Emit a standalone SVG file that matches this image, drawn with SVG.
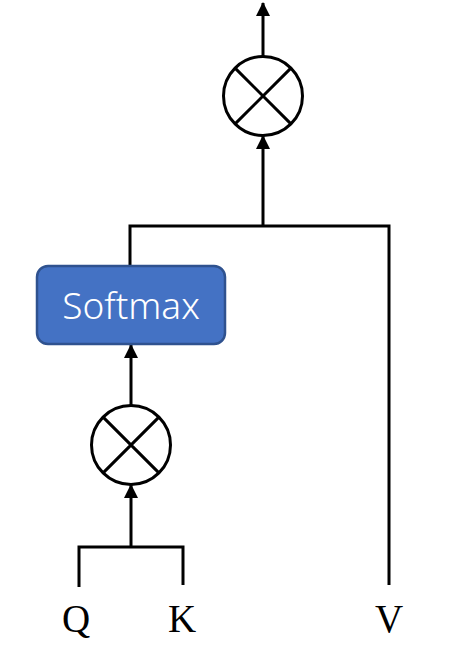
<svg xmlns="http://www.w3.org/2000/svg" width="473" height="655" viewBox="0 0 473 655">
<style>
.ln{fill:none;stroke:#000;stroke-width:3;stroke-linecap:butt;stroke-linejoin:miter}
.lbl{font-family:"Liberation Serif","Times New Roman",serif;font-size:39px;fill:#000;text-anchor:middle}
.op{fill:#fff;stroke:#000;stroke-width:3}
</style>
<defs>
<marker id="ah" markerUnits="userSpaceOnUse" markerWidth="14" markerHeight="14" refX="13" refY="7" orient="auto" viewBox="0 0 14 14">
<path d="M0,0 L14,7 L0,14 Z" fill="#000"/>
</marker>
</defs>
<rect width="473" height="655" fill="#fff"/>
<g id="connectors">
<path class="ln" d="M263,56 V3" marker-end="url(#ah)"/>
<path class="ln" d="M263,226 V136" marker-end="url(#ah)"/>
<path class="ln" d="M130,265 V226 H389 V585"/>
<path class="ln" d="M131,405 V345" marker-end="url(#ah)"/>
<path class="ln" d="M131,547 V485" marker-end="url(#ah)"/>
<path class="ln" d="M79,587 V547 H183 V585"/>
</g>
<g id="mul-top">
<circle class="op" cx="263" cy="96" r="39.5"/>
<path class="ln" d="M235.1,68.1 L290.9,123.9 M290.9,68.1 L235.1,123.9"/>
</g>
<g id="softmax">
<rect x="37" y="266" width="188" height="78" rx="11" fill="#4472C4" stroke="#2F528F" stroke-width="2.5"/>
<text x="131" y="319" font-family="'Noto Sans','Open Sans',sans-serif" font-size="37" font-weight="300" fill="#fff" text-anchor="middle">Softmax</text>
</g>
<g id="mul-bottom">
<circle class="op" cx="131" cy="445" r="39.5"/>
<path class="ln" d="M103.1,417.1 L158.9,472.9 M158.9,417.1 L103.1,472.9"/>
</g>
<g id="label-q"><text class="lbl" x="76" y="632">Q</text></g>
<g id="label-k"><text class="lbl" x="182" y="632">K</text></g>
<g id="label-v"><text class="lbl" x="389" y="632">V</text></g>
</svg>
